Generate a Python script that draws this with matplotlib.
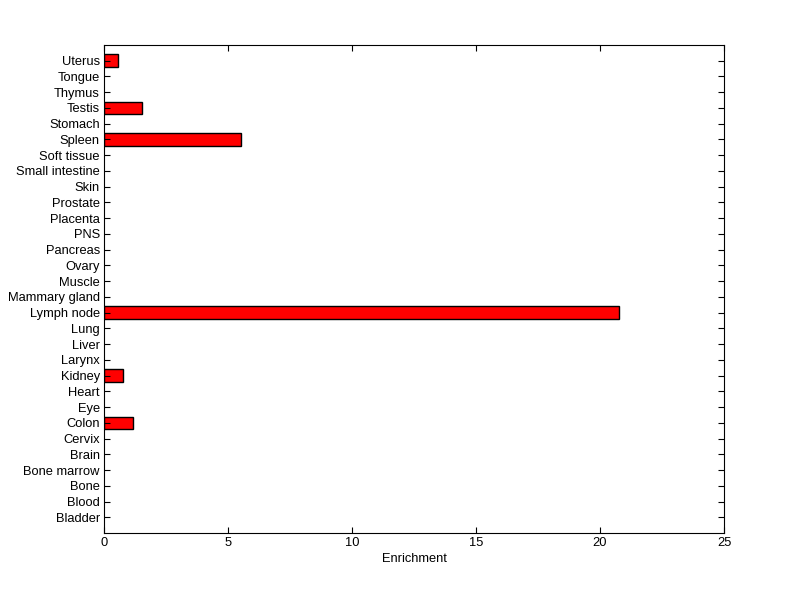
import matplotlib
matplotlib.use("Agg")
import matplotlib.pyplot as plt

tissues = ["Bladder", "Blood", "Bone", "Bone marrow", "Brain", "Cervix", "Colon", "Eye",
           "Heart", "Kidney", "Larynx", "Liver", "Lung", "Lymph node", "Mammary gland",
           "Muscle", "Ovary", "Pancreas", "PNS", "Placenta", "Prostate", "Skin",
           "Small intestine", "Soft tissue", "Spleen", "Stomach", "Testis", "Thymus",
           "Tongue", "Uterus"]
enrichment = [0, 0, 0, 0, 0, 0, 1.18, 0, 0, 0.78, 0, 0, 0, 20.78, 0,
              0, 0, 0, 0, 0, 0, 0, 0, 0, 5.54, 0, 1.53, 0, 0, 0.56]
xticks = [0, 5, 10, 15, 20, 25]

plt.rcParams['font.family'] = ['Liberation Sans', 'DejaVu Sans']
fig = plt.figure(figsize=(8, 5.99), dpi=100)
ax = fig.add_axes([0.13, 0.110, 0.775, 0.815])
pos = list(range(1, len(tissues) + 1))
vals = [v if v > 0 else float('nan') for v in enrichment]
ax.barh(pos, vals, height=0.8, color='#ff0000', edgecolor='black', linewidth=1)
ax.set_xlim(0, 25)
ax.set_ylim(0, len(tissues) + 1)
ax.set_yticks(pos)
ax.set_yticklabels(tissues)
ax.set_xticks(xticks)
ax.set_xticklabels([str(t) for t in xticks])
ax.tick_params(direction='in', top=True, right=True, length=4.5, width=0.8, labelsize=9.3, pad=3)
ax.set_xlabel("Enrichment", fontsize=9.3, labelpad=3)
for s in ax.spines.values():
    s.set_linewidth(0.8)
fig.savefig("out.png", dpi=100)
